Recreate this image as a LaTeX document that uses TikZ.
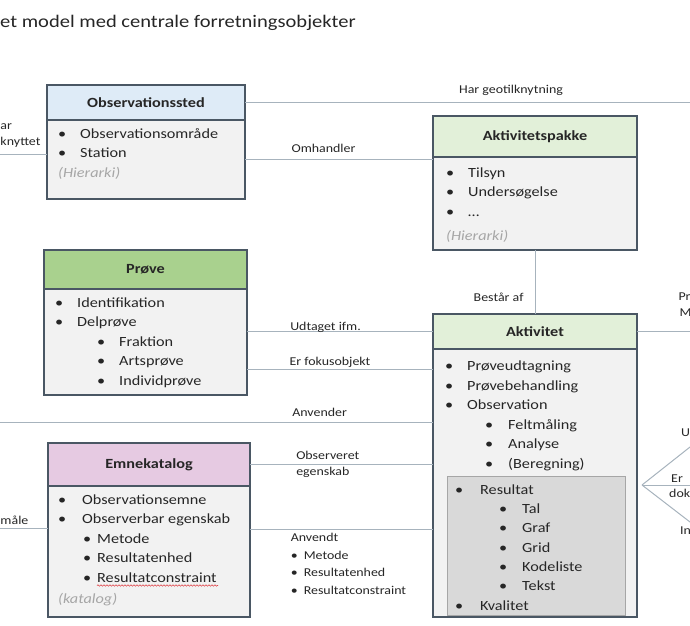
\documentclass[tikz,border=0pt]{standalone}
\usepackage{fontspec}
\setmainfont{Carlito}[FakeStretch=1.16]
\usetikzlibrary{positioning,calc,decorations.pathmorphing}

\definecolor{boxline}{HTML}{4A5764}
\definecolor{bodyfill}{HTML}{F2F2F2}
\definecolor{obsblue}{HTML}{DEEBF7}
\definecolor{lightgreen}{HTML}{E2F0D9}
\definecolor{darkgreen}{HTML}{A9D18E}
\definecolor{lilac}{HTML}{E6CAE2}
\definecolor{resgray}{HTML}{D9D9D9}
\definecolor{connline}{HTML}{A7B3BD}
\definecolor{textcol}{HTML}{262626}
\definecolor{hintgray}{HTML}{A6A6A6}
\definecolor{squiggle}{HTML}{E0474C}

\newcommand{\itm}[2][22pt]{\makebox[#1][l]{\textbullet}#2}
\newcommand{\subitm}[3]{\hspace*{#1}\makebox[#2][l]{\textbullet}#3}
\newcommand{\hint}[1]{{\color{hintgray}\itshape #1}}

\tikzset{
    hdr/.style={rectangle, draw=boxline, line width=1.6pt, fill=#1, anchor=north west, outer sep=0pt,
        font=\bfseries\fontsize{14}{16}\selectfont, text=textcol},
    body/.style={rectangle, draw=boxline, line width=1.6pt, fill=bodyfill, outer sep=0pt},
    lst/.style={align=left, anchor=base west, inner sep=0pt, text=textcol,
        font=\fontsize{14}{19.5}\selectfont},
    conn/.style={draw=connline, line width=1pt},
    lbl/.style={anchor=base west, inner sep=0pt, text=textcol, align=left,
        font=\fontsize{12}{16}\selectfont},
}

\begin{document}
\begin{tikzpicture}[x=1pt, y=-1pt]
    \useasboundingbox (0,0) rectangle (690,625);
    \coordinate (L) at (0,0);
    \coordinate (R) at (690,0);

    %% Title
    \node[anchor=base west, inner sep=0pt, text=textcol, font=\fontsize{17.7}{20}\selectfont] (title) at (0,27) {et model med centrale forretningsobjekter};

    %% Observationssted
    \node[hdr=obsblue, minimum width=198pt, minimum height=35pt] (obs) at (47,85) {Observationssted};
    \node[body, minimum width=198pt, minimum height=79pt, below=0pt of obs] (obsb) {};
    \node[lst] (obsl) at (58,177) {\itm{Observationsområde}\\ \itm{Station}\\ \hint{(Hierarki)}};

    %% Aktivitetspakke
    \node[hdr=lightgreen, minimum width=204pt, minimum height=41pt] (apk) at (433,116) {Aktivitetspakke};
    \node[body, minimum width=204pt, minimum height=93pt, below=0pt of apk] (apkb) {};
    \node[lst] (apkl) at (446,240) {\itm{Tilsyn}\\ \itm{Undersøgelse}\\ \itm{\dots}\\[4.5pt] \hint{(Hierarki)}};

    %% Prøve
    \node[hdr=darkgreen, minimum width=203pt, minimum height=39pt] (prv) at (44,250) {Prøve};
    \node[body, minimum width=203pt, minimum height=106pt, below=0pt of prv] (prvb) {};
    \node[lst] (prvl) at (55,385) {\itm{Identifikation}\\ \itm{Delprøve}\\
        \subitm{42pt}{22pt}{Fraktion}\\ \subitm{42pt}{22pt}{Artsprøve}\\ \subitm{42pt}{22pt}{Individprøve}};

    %% Aktivitet
    \node[hdr=lightgreen, minimum width=204pt, minimum height=35pt] (akt) at (433,314) {Aktivitet};
    \node[body, minimum width=204pt, minimum height=268pt, below=0pt of akt] (aktb) {};
    \node[lst] (aktl) at (445,468) {\itm{Prøveudtagning}\\ \itm{Prøvebehandling}\\ \itm{Observation}\\
        \subitm{40pt}{23pt}{Feltmåling}\\ \subitm{40pt}{23pt}{Analyse}\\ \subitm{40pt}{23pt}{(Beregning)}};
    \node[rectangle, draw=hintgray, line width=1pt, fill=resgray, anchor=north west,
        minimum width=178pt, minimum height=139pt] (res) at (447,476) {};
    \node[lst, font=\fontsize{14}{19.3}\selectfont] (resl) at (455,610) {\itm[25pt]{Resultat}\\
        \subitm{44pt}{23pt}{Tal}\\ \subitm{44pt}{23pt}{Graf}\\ \subitm{44pt}{23pt}{Grid}\\
        \subitm{44pt}{23pt}{Kodeliste}\\ \subitm{44pt}{23pt}{Tekst}\\ \itm[25pt]{Kvalitet}};

    %% Emnekatalog
    \node[hdr=lilac, minimum width=202pt, minimum height=43pt] (emn) at (48,443) {Emnekatalog};
    \node[body, minimum width=202pt, minimum height=131pt, below=0pt of emn] (emnb) {};
    \node[lst] (emnl) at (58,603) {\itm[24pt]{Observationsemne}\\ \itm[24pt]{Observerbar egenskab}\\
        \subitm{25pt}{14pt}{Metode}\\ \subitm{25pt}{14pt}{Resultatenhed}\\ \subitm{25pt}{14pt}{Resultatconstraint}\\[1.5pt]
        \hint{(katalog)}};
    \coordinate (sq1) at (97,585.5);
    \coordinate (sq2) at (218,585.5);
    \draw[squiggle, line width=0.6pt, decorate, decoration={snake, amplitude=0.7pt, segment length=3pt}] (sq1) -- (sq2);

    %% Connectors
    \draw[conn] (obs.east) -- (obs.east -| R) node[lbl, pos=0.48, yshift=9.5pt] {Har geotilknytning};
    \draw[conn] (obsb.east) -- (obsb.east -| apk.west) node[lbl, pos=0.245, yshift=7.5pt] {Omhandler};
    \draw[conn] ([yshift=5pt]obsb.west) -- ([yshift=5pt]obsb.west -| L) node[lbl, pos=1, yshift=9.5pt] {knyttet}
        node[lbl, pos=1, yshift=25.5pt] {ar};
    \draw[conn] (apkb.south) -- (akt.north) node[lbl, anchor=base east, pos=0.8, xshift=-11pt] {Består af};
    \draw[conn] (prvb.east |- akt.west) -- (akt.west) node[lbl, pos=0.23, yshift=1.5pt] {Udtaget ifm.};
    \draw[conn] ([yshift=-27pt]prvb.east) -- ([yshift=-27pt]prvb.east -| aktb.west) node[lbl, pos=0.226, yshift=4pt] {Er fokusobjekt};
    \draw[conn] ([yshift=61pt]aktb.west) -- ([yshift=61pt]aktb.west -| L) node[lbl, pos=0.326, yshift=6pt] {Anvender};
    \draw[conn] (emn.east) -- (emn.east -| aktb.west) node[lbl, anchor=west, pos=0.25] {Observeret\\egenskab};
    \draw[conn] ([yshift=22pt]emnb.east) -- ([yshift=22pt]emnb.east -| aktb.west)
        node[lbl, pos=0.22, yshift=-64.5pt, font=\fontsize{12}{17.5}\selectfont] {Anvendt\\
        \itm[13pt]{Metode}\\ \itm[13pt]{Resultatenhed}\\ \itm[13pt]{Resultatconstraint}};
    \draw[conn] ([yshift=23pt]emnb.west) -- ([yshift=23pt]emnb.west -| L) node[lbl, pos=1, yshift=4.5pt] {måle};

    %% Right edge
    \draw[conn] (akt.east) -- (akt.east -| R) node[lbl, pos=1, xshift=-11pt, yshift=15.5pt] {M}
        node[lbl, pos=1, xshift=-12pt, yshift=31.5pt] {Pr};
    \coordinate (fan) at ([xshift=5pt]aktb.east |- 0,485);
    \coordinate (fanU) at (690,447);
    \coordinate (fanD) at (690,522);
    \draw[conn] (fan) -- (fanU);
    \draw[conn] (fan) -- (fanD);
    \draw[conn] (fan) -- (fan -| R);
    \node[lbl] (u) at (681,436) {U};
    \node[lbl] (er) at (671,482) {Er};
    \node[lbl] (dok) at (669,497) {dok};
    \node[lbl] (in) at (680,534) {In};
\end{tikzpicture}
\end{document}
